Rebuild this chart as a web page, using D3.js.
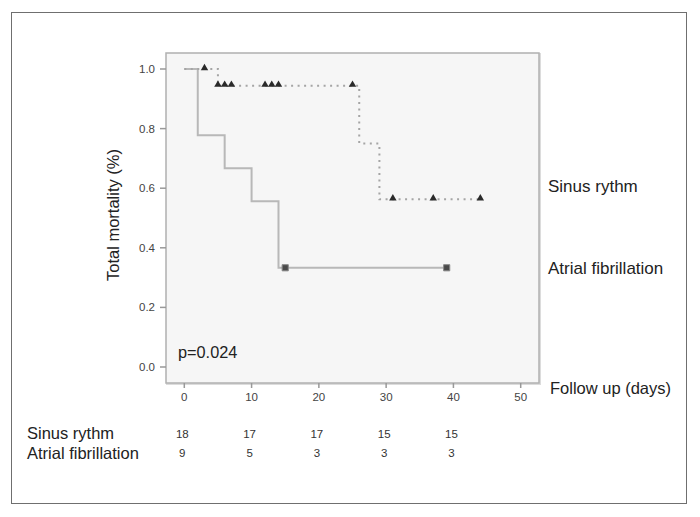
<!DOCTYPE html>
<html>
<head>
<meta charset="utf-8">
<script src="https://cdn.jsdelivr.net/npm/d3@7"></script>
<style>
  body { margin: 0; background: #fff; }
  text { font-family: "Liberation Sans", Arial, sans-serif; }
</style>
</head>
<body>
<div id="chart"></div>
<script>
// Kaplan-Meier curves
var srDays = [0, 5, 26, 29, 44];
var srSurv = [1.0, 0.944, 0.75, 0.563, 0.563];
var srCensor = [3, 5, 6, 7, 12, 13, 14, 25, 31, 37, 44];

var afDays = [0, 2, 6, 10, 14, 39];
var afSurv = [1.0, 0.778, 0.667, 0.556, 0.333, 0.333];
var afCensor = [15, 39];

var xTicks = [0, 10, 20, 30, 40, 50];
var yTicks = [0.0, 0.2, 0.4, 0.6, 0.8, 1.0];

// numbers at risk
var riskDays = [0, 10, 20, 30, 40];
var riskSR = [18, 17, 17, 15, 15];
var riskAF = [9, 5, 3, 3, 3];

var width = 700, height = 517;

var svg = d3.select("#chart")
	.append("svg")
	.attr("width", width)
	.attr("height", height);

// outer frame
svg.append("rect")
	.attr("x", 11.5).attr("y", 12.5)
	.attr("width", 675).attr("height", 491)
	.attr("fill", "#fff")
	.attr("stroke", "#6f6f6f")
	.attr("stroke-width", 1);

var x = d3.scaleLinear().domain([0, 50]).range([184.3, 520.7]);
var y = d3.scaleLinear().domain([0, 1]).range([367, 69]);

// plot box
svg.append("rect")
	.attr("x", 167).attr("y", 54)
	.attr("width", 373).attr("height", 330)
	.attr("fill", "none")
	.attr("stroke", "#dcdcdc")
	.attr("stroke-width", 2);
svg.append("rect")
	.attr("x", 166).attr("y", 53)
	.attr("width", 373).attr("height", 330)
	.attr("fill", "#f6f6f6")
	.attr("stroke", "#b0b0b0")
	.attr("stroke-width", 1.5);

// y axis
var yAxis = svg.append("g");
yAxis.selectAll("line").data(yTicks).enter().append("line")
	.attr("x1", 160).attr("x2", 166)
	.attr("y1", d => y(d)).attr("y2", d => y(d))
	.attr("stroke", "#999").attr("stroke-width", 1.5);
yAxis.selectAll("text").data(yTicks).enter().append("text")
	.attr("x", 155).attr("y", d => y(d) + 4)
	.attr("text-anchor", "end")
	.attr("font-size", 11.5)
	.attr("fill", "#444")
	.text(d => d.toFixed(1));

// x axis
var xAxis = svg.append("g");
xAxis.selectAll("line").data(xTicks).enter().append("line")
	.attr("x1", d => x(d)).attr("x2", d => x(d))
	.attr("y1", 383).attr("y2", 388)
	.attr("stroke", "#999").attr("stroke-width", 1.5);
xAxis.selectAll("text").data(xTicks).enter().append("text")
	.attr("x", d => x(d)).attr("y", 401)
	.attr("text-anchor", "middle")
	.attr("font-size", 11.5)
	.attr("fill", "#444")
	.text(d => d);

svg.append("text")
	.attr("transform", "translate(119,215) rotate(-90)")
	.attr("text-anchor", "middle")
	.attr("font-size", 16.5)
	.attr("fill", "#222")
	.text("Total mortality (%)");

// step lines
var step = d3.line()
	.x(d => x(d[0]))
	.y(d => y(d[1]))
	.curve(d3.curveStepAfter);

var afPts = afDays.map((d, i) => [d, afSurv[i]]);
var srPts = srDays.map((d, i) => [d, srSurv[i]]);

svg.append("path")
	.attr("d", step(afPts))
	.attr("fill", "none")
	.attr("stroke", "#b8b8b8")
	.attr("stroke-width", 2);

svg.append("path")
	.attr("d", step(srPts))
	.attr("fill", "none")
	.attr("stroke", "#a5a5a5")
	.attr("stroke-width", 2)
	.attr("stroke-dasharray", "2,4.5");

function survAt(days, surv, t) {
	var v = surv[0];
	for (var i = 0; i < days.length; i++) if (days[i] <= t) v = surv[i];
	return v;
}

svg.selectAll(".sr").data(srCensor).enter().append("path")
	.attr("class", "sr")
	.attr("d", d3.symbol(d3.symbolTriangle).size(24))
	.attr("transform", d => "translate(" + x(d) + "," + (y(survAt(srDays, srSurv, d)) - 1) + ")")
	.attr("fill", "#2a2a2a");

svg.selectAll(".af").data(afCensor).enter().append("path")
	.attr("class", "af")
	.attr("d", d3.symbol(d3.symbolSquare).size(38))
	.attr("transform", d => "translate(" + x(d) + "," + y(survAt(afDays, afSurv, d)) + ")")
	.attr("fill", "#4a4a4a")
	.attr("stroke", "#8a8a8a")
	.attr("stroke-width", 1);

// labels
svg.append("text").attr("x", 178).attr("y", 358)
	.attr("font-size", 16.3).attr("fill", "#222").text("p=0.024");
svg.append("text").attr("x", 548).attr("y", 192)
	.attr("font-size", 17).attr("fill", "#222").text("Sinus rythm");
svg.append("text").attr("x", 548).attr("y", 274)
	.attr("font-size", 17).attr("fill", "#222").text("Atrial fibrillation");
svg.append("text").attr("x", 550).attr("y", 394)
	.attr("font-size", 16.5).attr("fill", "#222").text("Follow up (days)");

// numbers at risk table
svg.append("text").attr("x", 27).attr("y", 439)
	.attr("font-size", 16.5).attr("fill", "#222").text("Sinus rythm");
svg.append("text").attr("x", 27).attr("y", 459)
	.attr("font-size", 16.5).attr("fill", "#222").text("Atrial fibrillation");

svg.selectAll(".rsr").data(riskSR).enter().append("text")
	.attr("x", (d, i) => x(riskDays[i]) - 2).attr("y", 438)
	.attr("text-anchor", "middle").attr("font-size", 11.5).attr("fill", "#333")
	.text(d => d);
svg.selectAll(".raf").data(riskAF).enter().append("text")
	.attr("x", (d, i) => x(riskDays[i]) - 2).attr("y", 457)
	.attr("text-anchor", "middle").attr("font-size", 11.5).attr("fill", "#333")
	.text(d => d);
</script>
</body>
</html>
